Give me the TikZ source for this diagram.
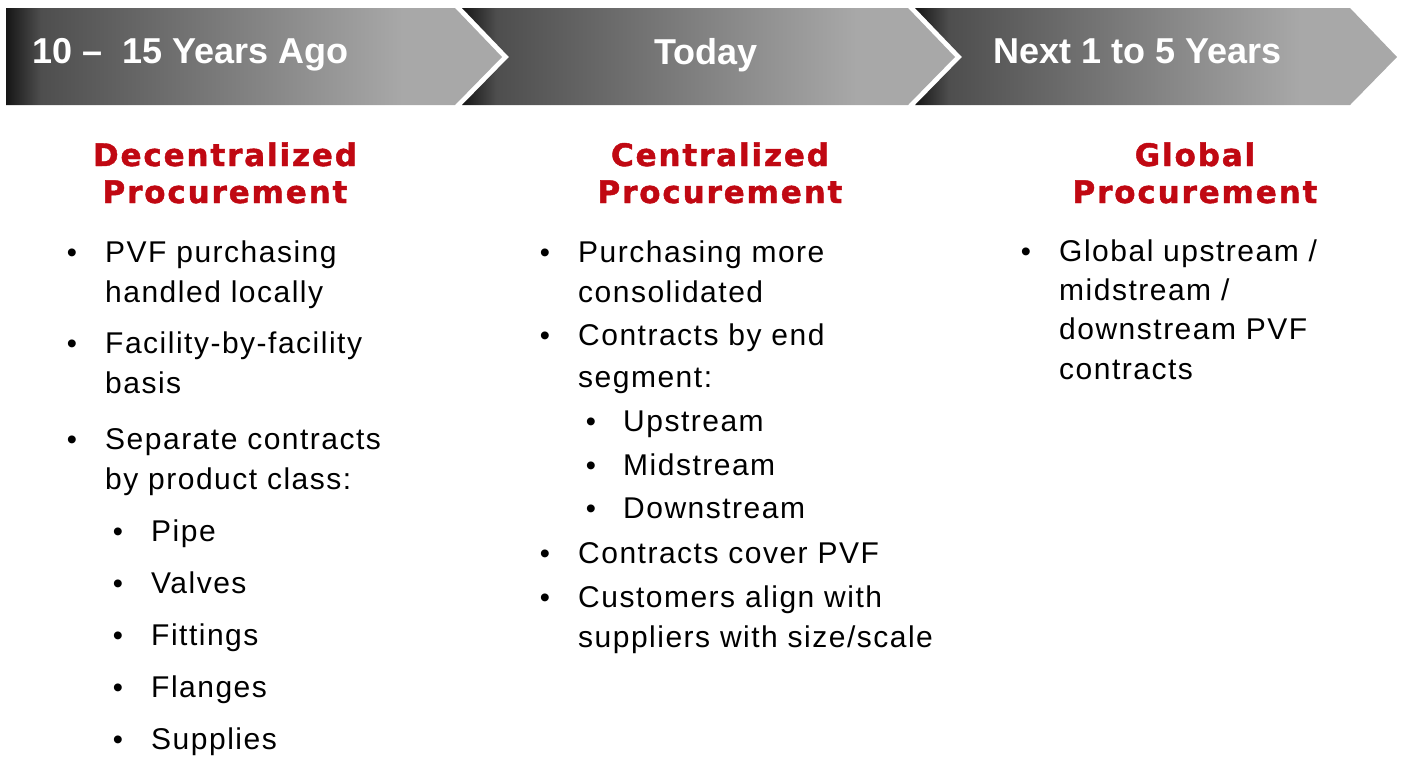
\documentclass[tikz,border=0pt]{standalone}
\usepackage{fontspec}
\setmainfont{Liberation Sans}
\newfontfamily\bodyfont[LetterSpace=5]{Liberation Sans}
\newfontfamily\procfont[LetterSpace=6,FakeBold=1.4]{DejaVu Sans Bold}
\usetikzlibrary{positioning}

\definecolor{procred}{RGB}{192,8,18}
\definecolor{chevdark}{RGB}{22,22,22}
\definecolor{chevmid}{RGB}{78,78,78}
\definecolor{chevlight}{RGB}{168,168,168}
\pgfdeclarehorizontalshading{chevshade}{100bp}{color(0bp)=(chevdark); color(25bp)=(chevdark); color(28.5bp)=(chevmid); color(65bp)=(chevlight); color(100bp)=(chevlight)}

\begin{document}
\begin{tikzpicture}[x=1pt,y=-1pt,
  chevron/.style={shading=chevshade},
  header/.style={text=white, inner sep=0pt, font=\fontsize{36}{40}\selectfont\bfseries},
  proc/.style={text=procred, inner sep=0pt, anchor=base, font=\procfont\fontsize{31}{34}\selectfont},
  item/.style={inner sep=0pt, anchor=base west, font=\bodyfont\fontsize{30}{34}\selectfont},
  dot/.style={inner sep=0pt, anchor=base, font=\fontsize{29}{34}\selectfont}]

\useasboundingbox (0,0) rectangle (1402,758);

% time line
\shade[chevron] (6,8) -- (455,8) -- (502,57) -- (455,105) -- (6,105) -- cycle;
\shade[chevron] (462,8) -- (908,8) -- (955,57) -- (908,105) -- (462,105) -- (509,57) -- cycle;
\shade[chevron] (915,8) -- (1350,8) -- (1397,57) -- (1350,105) -- (915,105) -- (962,57) -- cycle;

\node[header, anchor=base west] (ago)   at (32,63)  {10 –\ \ 15 Years Ago};
\node[header, anchor=base]      (today) at (706,64) {Today};
\node[header, anchor=base west] (next)  at (993,63) {Next 1 to 5 Years};

% column titles
\node[proc] (dec1) at (225,166) {Decentralized};
\node[proc] (dec2) at (225,203) {Procurement};
\node[proc] (cen1) at (720,166) {Centralized};
\node[proc] (cen2) at (720,203) {Procurement};
\node[proc] (glo1) at (1195,166) {Global};
\node[proc] (glo2) at (1195,203) {Procurement};

% decentralized
\foreach \y/\t [count=\i] in {262/PVF purchasing, 302/handled locally, 353/Facility-by-facility, 393/basis, 449/Separate contracts, 489/by product class:}
  \node[item] (dl\i) at (105,\y) {\t};
\foreach \y/\t [count=\i] in {541/Pipe, 593/Valves, 645/Fittings, 697/Flanges, 749/Supplies}
  \node[item] (ds\i) at (151,\y) {\t};
\foreach \y [count=\i] in {262,353,449}
  \node[dot] (db\i) at (72,\y) {•};
\foreach \y [count=\i] in {541,593,645,697,749}
  \node[dot] (dsb\i) at (118,\y) {•};

% centralized
\foreach \y/\t [count=\i] in {262/Purchasing more, 302/consolidated, 345/Contracts by end, 387/segment:, 563/Contracts cover PVF, 607/Customers align with, 647/{suppliers with size/scale}}
  \node[item] (cl\i) at (578,\y) {\t};
\foreach \y/\t [count=\i] in {431/Upstream, 475/Midstream, 518/Downstream}
  \node[item] (cs\i) at (623,\y) {\t};
\foreach \y [count=\i] in {262,345,563,607}
  \node[dot] (cb\i) at (545,\y) {•};
\foreach \y [count=\i] in {431,475,518}
  \node[dot] (csb\i) at (591,\y) {•};

% global
\foreach \y/\t [count=\i] in {261/{Global upstream /}, 300/{midstream /}, 339/downstream PVF, 379/contracts}
  \node[item] (gl\i) at (1059,\y) {\t};
\node[dot] (gb1) at (1026,261) {•};

\end{tikzpicture}
\end{document}
